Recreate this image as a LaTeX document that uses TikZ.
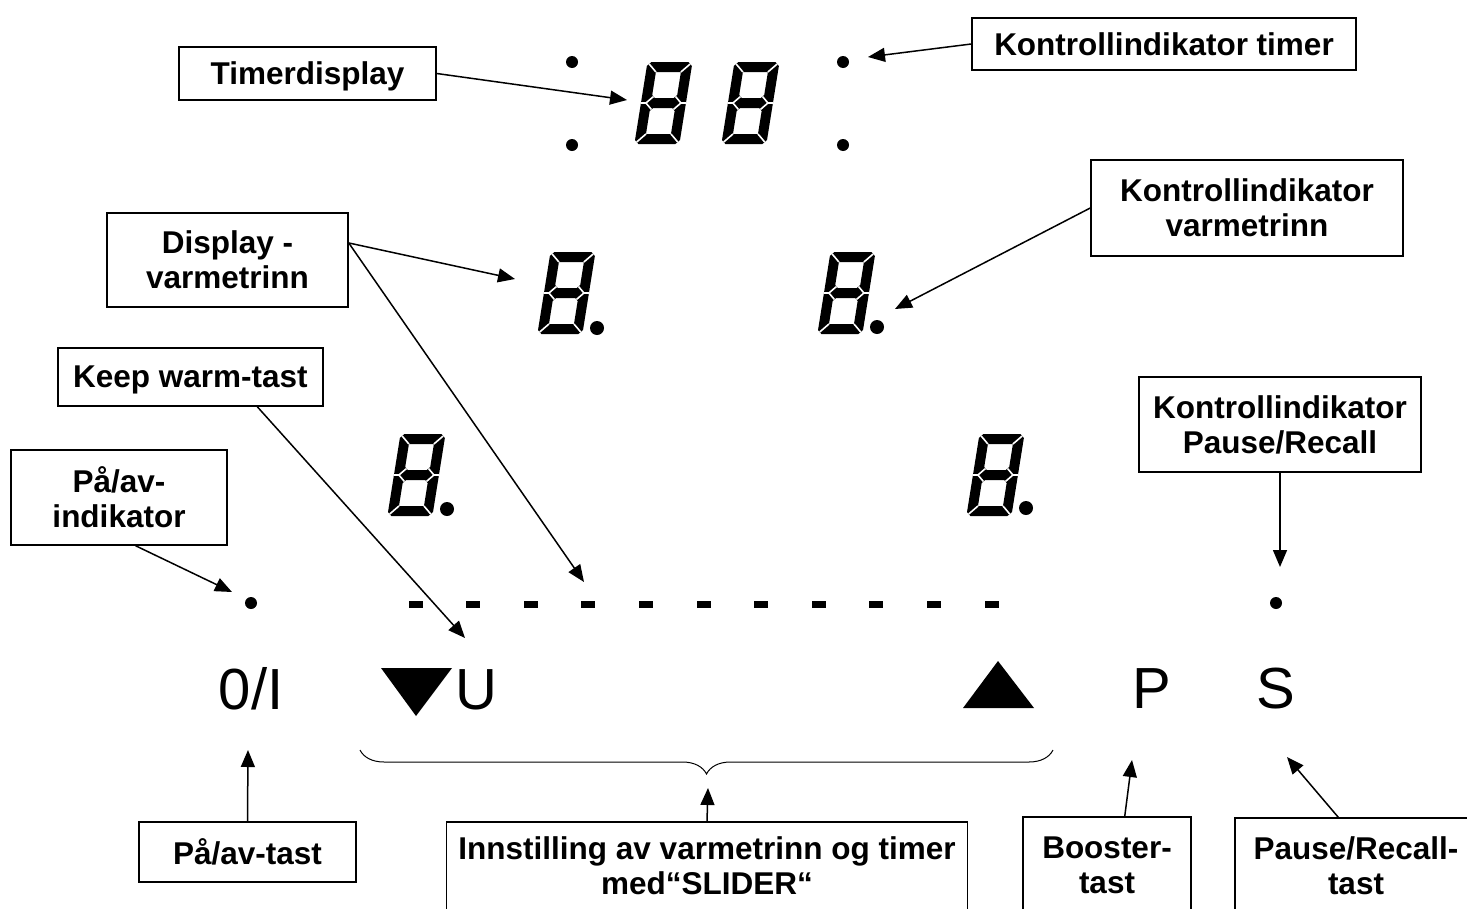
\documentclass[tikz,border=0pt]{standalone}
\usepackage{fontspec}
\setmainfont{Liberation Sans}
\usetikzlibrary{arrows.meta,decorations.pathreplacing}

% 7-세그먼트 숫자 (8)
\newcommand{\segdigit}[2]{%
  \begin{scope}[shift={(#1,#2)}, xslant=0.16]
    \fill[even odd rule] (4,0) -- (41,0) -- (45,4) -- (45,78) -- (41,82) -- (4,82) -- (0,78) -- (0,4) -- cycle
      (10,10) -- (35,10) -- (35,33) -- (32,36) -- (13,36) -- (10,33) -- cycle
      (13,46) -- (32,46) -- (35,49) -- (35,72) -- (10,72) -- (10,49) -- cycle;
    \draw[white, line width=1.6pt] (2,2) -- (10,10) (43,2) -- (35,10) (2,80) -- (10,72) (43,80) -- (35,72)
      (11.5,34.5) -- (5,41) -- (11.5,47.5) (5,41) -- (0,41)
      (33.5,34.5) -- (40,41) -- (33.5,47.5) (40,41) -- (45,41);
  \end{scope}}

\begin{document}
\begin{tikzpicture}[
    x=1pt, y=-1pt,
    lbl/.style={
        draw,
        line width=1.5pt,
        inner sep=0pt,
        align=center,
        text depth=0pt,
        font=\fontsize{31.5}{35}\selectfont\bfseries
    },
    arr/.style={-{Triangle[length=17pt,width=14pt]}, line width=1.5pt},
    key/.style={inner sep=0pt, font=\fontsize{58}{60}\selectfont}
]

% 영역
\clip (0,0) rectangle (1467,908);
\fill[white] (0,0) rectangle (1467,908);

% 타이머 표시
\segdigit{647.5}{62}
\segdigit{734.5}{62}
\fill (572,62) circle (6pt);
\fill (572,145) circle (6pt);
\fill (843,62) circle (6pt);
\fill (843,145) circle (6pt);

% 가열 단계 표시
\segdigit{550.5}{252}
\segdigit{830.5}{252}
\segdigit{400.5}{434}
\segdigit{979.5}{434}
\fill (597,328) circle (7pt);
\fill (877,327) circle (7pt);
\fill (447,509) circle (7pt);
\fill (1026,508) circle (7pt);

% 슬라이더
\foreach \i in {0,...,10}
    \fill ({408.5+57.6*\i},600.5) rectangle +(14,7);
\fill (251,603) circle (6pt);
\fill (1276,603) circle (6pt);

% 키
\node[key] (onoff) at (251,689) {0/I};
\fill (381,668) -- (452,668) -- (416,716) -- cycle;
\node[key] (keepU) at (476.5,689.5) {U};
\fill (963,708) -- (1034,708) -- (998,661) -- cycle;
\node[key] (keyP) at (1152,689) {P};
\node[key] (keyS) at (1276,689) {S};

\draw[line width=1pt, decorate, decoration={brace, amplitude=24pt, mirror}] (360,750) -- (1053,750);

% 라벨 박스
\node[lbl, minimum width=257pt, minimum height=53pt] (timerBox) at (307.5,73.5) {Timerdisplay};
\node[lbl, minimum width=384pt, minimum height=52pt] (ktBox) at (1164,44) {Kontrollindikator timer};
\node[lbl, minimum width=241pt, minimum height=94pt] (dispBox) at (227.5,260) {Display -\\varmetrinn};
\node[lbl, minimum width=312pt, minimum height=96pt] (kvBox) at (1247,208) {Kontrollindikator\\varmetrinn};
\node[lbl, minimum width=265pt, minimum height=58pt] (kwBox) at (190.5,377) {Keep warm-tast};
\node[lbl, minimum width=282pt, minimum height=95pt] (kprBox) at (1280,424.5) {Kontrollindikator\\Pause/Recall};
\node[lbl, minimum width=216pt, minimum height=95pt] (paiBox) at (119,497.5) {På/av-\\indikator};
\node[lbl, minimum width=217pt, minimum height=60pt] (patBox) at (247.5,852) {På/av-tast};
\node[lbl, minimum width=521pt, minimum height=88pt] (sliderBox) at (707,866) {Innstilling av varmetrinn og timer\\med“SLIDER“};
\node[lbl, minimum width=168pt, minimum height=96pt] (boostBox) at (1107,865) {Booster-\\tast};
\node[lbl, minimum width=242pt, minimum height=96pt] (prtBox) at (1356,866) {Pause/Recall-\\tast};

% 화살표 끝점
\coordinate (tipTimer) at (627,100);
\coordinate (tipKt) at (868,57);
\coordinate (tipDisp) at (515,279);
\coordinate (tipSlider) at (584,582);
\coordinate (tipKv) at (895,309);
\coordinate (tipKw) at (465,638);
\coordinate (tipPai) at (232,592);
\coordinate (tipKpr) at (1280,567);
\coordinate (tipPat) at (248,750);
\coordinate (tipBrace) at (708,788);
\coordinate (tipBoost) at (1132,760);
\coordinate (tipPrt) at (1287,757);

% 화살표
\draw[arr] (timerBox.east) -- (tipTimer);
\draw[arr] (ktBox.west) -- (tipKt);
\draw[arr] (dispBox.8) -- (tipDisp);
\draw[arr] (dispBox.8) -- (tipSlider);
\draw[arr] (kvBox.west) -- (tipKv);
\draw[arr] (kwBox.-24) -- (tipKw);
\draw[arr] (paiBox.-71) -- (tipPai);
\draw[arr] (kprBox.south) -- (tipKpr);
\draw[arr] (patBox.north) -- (tipPat);
\draw[arr] (sliderBox.north) -- (tipBrace);
\draw[arr] (boostBox.70) -- (tipBoost);
\draw[arr] (prtBox.110) -- (tipPrt);

\end{tikzpicture}
\end{document}
